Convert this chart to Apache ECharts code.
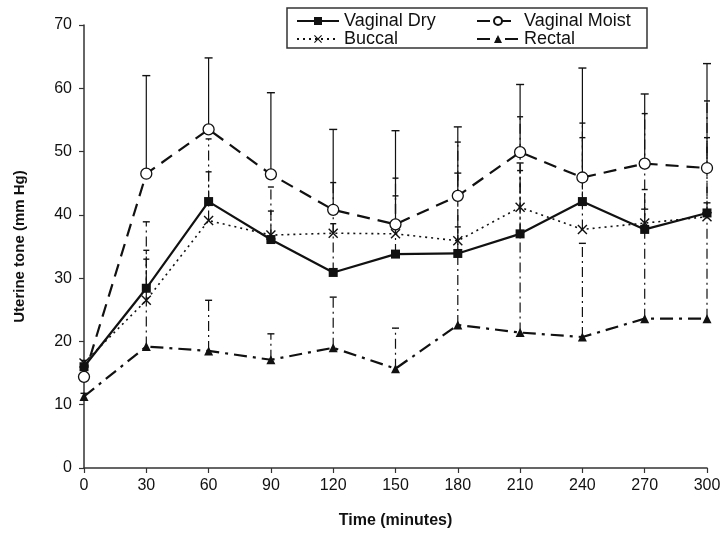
<!DOCTYPE html>
<html><head><meta charset="utf-8">
<script src="https://cdn.jsdelivr.net/npm/echarts@6/dist/echarts.min.js"></script>
<style>html,body{margin:0;padding:0;background:#fff}#c{width:725px;height:533px}</style>
</head><body><div id="c"></div>
<script>
const times = [0, 30, 60, 90, 120, 150, 180, 210, 240, 270, 300];
const yTicks = [0, 10, 20, 30, 40, 50, 60, 70];

const dryMean    = [16.0, 28.4, 42.1, 36.1, 30.9, 33.8, 33.9, 37.0, 42.1, 37.7, 40.3];
const moistMean  = [14.4, 46.5, 53.5, 46.4, 40.8, 38.5, 43.0, 49.9, 45.9, 48.1, 47.4];
const buccalMean = [16.6, 26.5, 39.1, 36.8, 37.1, 37.0, 35.9, 41.2, 37.7, 38.7, 39.7];
const rectalMean = [11.3, 19.2, 18.5, 17.1, 19.0, 15.7, 22.6, 21.4, 20.7, 23.6, 23.6];

// upper ends of error bars (mean + SD)
const dryUpper    = [16.5, 34.4, 46.8, 44.4, 38.6, 43.0, 38.1, 55.5, 54.5, 56.0, 58.0];
const moistUpper  = [15.0, 62.0, 64.8, 59.3, 53.5, 53.3, 53.9, 60.6, 63.2, 59.1, 63.9];
const buccalUpper = [17.0, 33.0, 52.0, 40.6, 45.1, 45.8, 51.5, 47.0, 52.2, 44.0, 52.2];
const rectalUpper = [11.8, 38.9, 26.5, 21.2, 27.0, 22.1, 46.6, 48.2, 35.5, 40.9, 41.9];

const FONT = 'Liberation Sans, Arial, sans-serif';
const INK = '#111';

function pairs(means) { return times.map((t, i) => [t, means[i]]); }
function bars(means, uppers) { return times.map((t, i) => [t, means[i], uppers[i]]); }

function errSeries(means, uppers, dash, capHalf) {
  return {
    type: 'custom',
    silent: true,
    z: 1,
    clip: false,
    data: bars(means, uppers),
    encode: { x: 0, y: [1, 2] },
    renderItem(params, api) {
      const x = api.value(0), lo = api.value(1), hi = api.value(2);
      const p0 = api.coord([x, lo]), p1 = api.coord([x, hi]);
      return {
        type: 'group',
        children: [
          { type: 'line', shape: { x1: p0[0], y1: p0[1], x2: p1[0], y2: p1[1] },
            style: { stroke: INK, lineWidth: 1.2, lineDash: dash } },
          { type: 'line', shape: { x1: p1[0] - capHalf, y1: p1[1], x2: p1[0] + capHalf, y2: p1[1] },
            style: { stroke: INK, lineWidth: 1.4 } }
        ]
      };
    }
  };
}

const XPATH = 'path://M0,1 L1,0 L5,4 L9,0 L10,1 L6,5 L10,9 L9,10 L5,6 L1,10 L0,9 L4,5 Z';
const dashDot = [10, 4, 2, 4];

const legendText = { fontFamily: FONT, fontSize: 18, color: INK, lineHeight: 16, padding: [0, 0, 0, 0] };

const chart = echarts.init(document.getElementById('c'), null, { renderer: 'canvas' });
chart.setOption({
  backgroundColor: '#fff',
  animation: false,
  textStyle: { fontFamily: FONT },
  grid: { left: 84, right: 18, top: 25, bottom: 65, containLabel: false, outerBoundsMode: 'none' },
  graphic: [{
    type: 'rect', z: 100,
    shape: { x: 287, y: 8, width: 360, height: 40 },
    style: { fill: 'none', stroke: '#333', lineWidth: 1.5 }
  }],
  legend: [
    { orient: 'vertical', left: 296, top: 12, itemWidth: 42, itemHeight: 10, itemGap: 0, padding: 0,
      data: ['Vaginal Dry', 'Buccal'], textStyle: legendText },
    { orient: 'vertical', left: 476, top: 12, itemWidth: 42, itemHeight: 10, itemGap: 0, padding: 0,
      data: ['Vaginal Moist', 'Rectal'], textStyle: legendText }
  ],
  xAxis: {
    type: 'value', min: 0, max: 300, interval: 30,
    name: 'Time (minutes)', nameLocation: 'middle', nameGap: 45,
    nameTextStyle: { fontFamily: FONT, fontSize: 16, fontWeight: 'bold', color: INK },
    axisLine: { lineStyle: { color: '#333', width: 1.5 } },
    axisTick: { show: true, length: 5, lineStyle: { color: '#333', width: 1.2 } },
    axisLabel: { fontFamily: FONT, fontSize: 16, color: INK, margin: 10 },
    splitLine: { show: false }
  },
  yAxis: {
    type: 'value', min: yTicks[0], max: yTicks[yTicks.length - 1], interval: 10,
    name: 'Uterine tone (mm Hg)', nameLocation: 'middle', nameGap: 57,
    nameTextStyle: { fontFamily: FONT, fontSize: 15, fontWeight: 'bold', color: INK },
    axisLine: { show: true, lineStyle: { color: '#333', width: 1.5 } },
    axisTick: { show: true, length: 5, lineStyle: { color: '#333', width: 1.2 } },
    axisLabel: { fontFamily: FONT, fontSize: 16, color: INK, margin: 12 },
    splitLine: { show: false }
  },
  series: [
    errSeries(moistMean, moistUpper, null, 4),
    errSeries(rectalMean, rectalUpper, dashDot, 3.5),
    errSeries(dryMean, dryUpper, dashDot, 3),
    errSeries(buccalMean, buccalUpper, dashDot, 3),
    {
      name: 'Vaginal Dry', type: 'line', z: 5, data: pairs(dryMean),
      symbol: 'rect', symbolSize: 9, showAllSymbol: true,
      lineStyle: { color: INK, width: 2.2, type: 'solid' },
      itemStyle: { color: INK, borderColor: INK, borderWidth: 0 }
    },
    {
      name: 'Vaginal Moist', type: 'line', z: 4, data: pairs(moistMean),
      symbol: 'circle', symbolSize: 11, showAllSymbol: true,
      lineStyle: { color: INK, width: 2.2, type: [13, 8] },
      itemStyle: { color: '#fff', borderColor: INK, borderWidth: 1.3 }
    },
    {
      name: 'Buccal', type: 'line', z: 4, data: pairs(buccalMean),
      symbol: XPATH, symbolSize: 10, showAllSymbol: true,
      lineStyle: { color: INK, width: 1.6, type: [2, 4] },
      itemStyle: { color: INK }
    },
    {
      name: 'Rectal', type: 'line', z: 4, data: pairs(rectalMean),
      symbol: 'triangle', symbolSize: 9, showAllSymbol: true,
      lineStyle: { color: INK, width: 2.2, type: [13, 6, 3, 6] },
      itemStyle: { color: INK }
    }
  ]
});
</script>
</body></html>
